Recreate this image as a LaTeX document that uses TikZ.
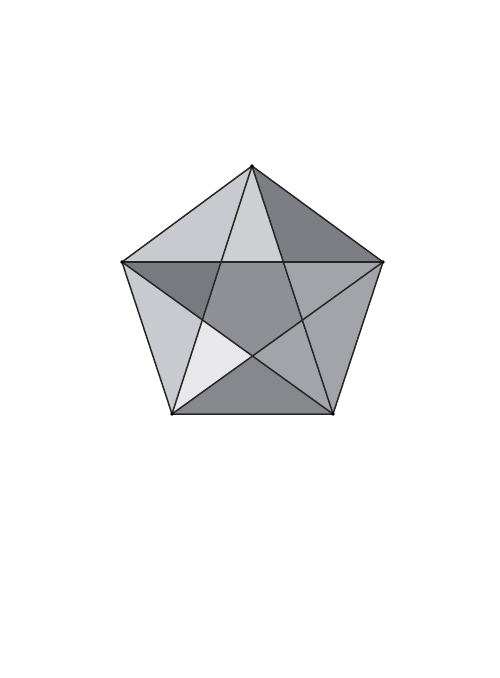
\documentclass[tikz,border=0pt]{standalone}
\usetikzlibrary{calc}
\definecolor{lightg}{RGB}{201,202,207}
\definecolor{topg}{RGB}{206,207,211}
\definecolor{darkg}{RGB}{124,126,132}
\definecolor{midg}{RGB}{142,144,149}
\definecolor{rightg}{RGB}{162,164,169}
\definecolor{botg}{RGB}{134,136,141}
\definecolor{paleg}{RGB}{232,232,234}
\tikzset{edge/.style={draw=black!85,line width=1.5pt,line join=round},
  region/.style={draw=none}}
\begin{document}
\begin{tikzpicture}[x=1pt,y=-1pt]
\useasboundingbox (0,0) rectangle (500,678);
\coordinate (T) at (252,166);
\coordinate (L) at (122,262);
\coordinate (R) at (383,262);
\coordinate (BL) at (172,414);
\coordinate (BR) at (333,414);
\coordinate (P1) at (intersection of T--BL and L--R);
\coordinate (P2) at (intersection of T--BR and L--R);
\coordinate (P3) at (intersection of T--BL and L--BR);
\coordinate (P4) at (intersection of T--BR and R--BL);
\coordinate (C) at (intersection of L--BR and R--BL);
\fill[lightg] (T) -- (L) -- (P1) -- cycle;
\fill[topg] (T) -- (P1) -- (P2) -- cycle;
\fill[darkg] (T) -- (P2) -- (R) -- cycle;
\fill[darkg!97!black] (L) -- (P1) -- (P3) -- cycle;
\fill[midg] (P1) -- (P2) -- (P4) -- (C) -- (P3) -- cycle;
\fill[rightg] (P2) -- (R) -- (BR) -- (C) -- (P4) -- cycle;
\fill[lightg] (L) -- (P3) -- (BL) -- cycle;
\fill[paleg] (P3) -- (C) -- (BL) -- cycle;
\fill[botg] (BL) -- (C) -- (BR) -- cycle;
\draw[edge] (T) -- (R) -- (BR) -- (BL) -- (L) -- cycle;
\draw[edge] (T) -- (BL);
\draw[edge] (T) -- (BR);
\draw[edge] (L) -- (R);
\draw[edge] (L) -- (BR);
\draw[edge] (R) -- (BL);
\foreach \p in {T,L,R,BL,BR} \fill[black] (\p) circle (1.8);
\end{tikzpicture}
\end{document}
